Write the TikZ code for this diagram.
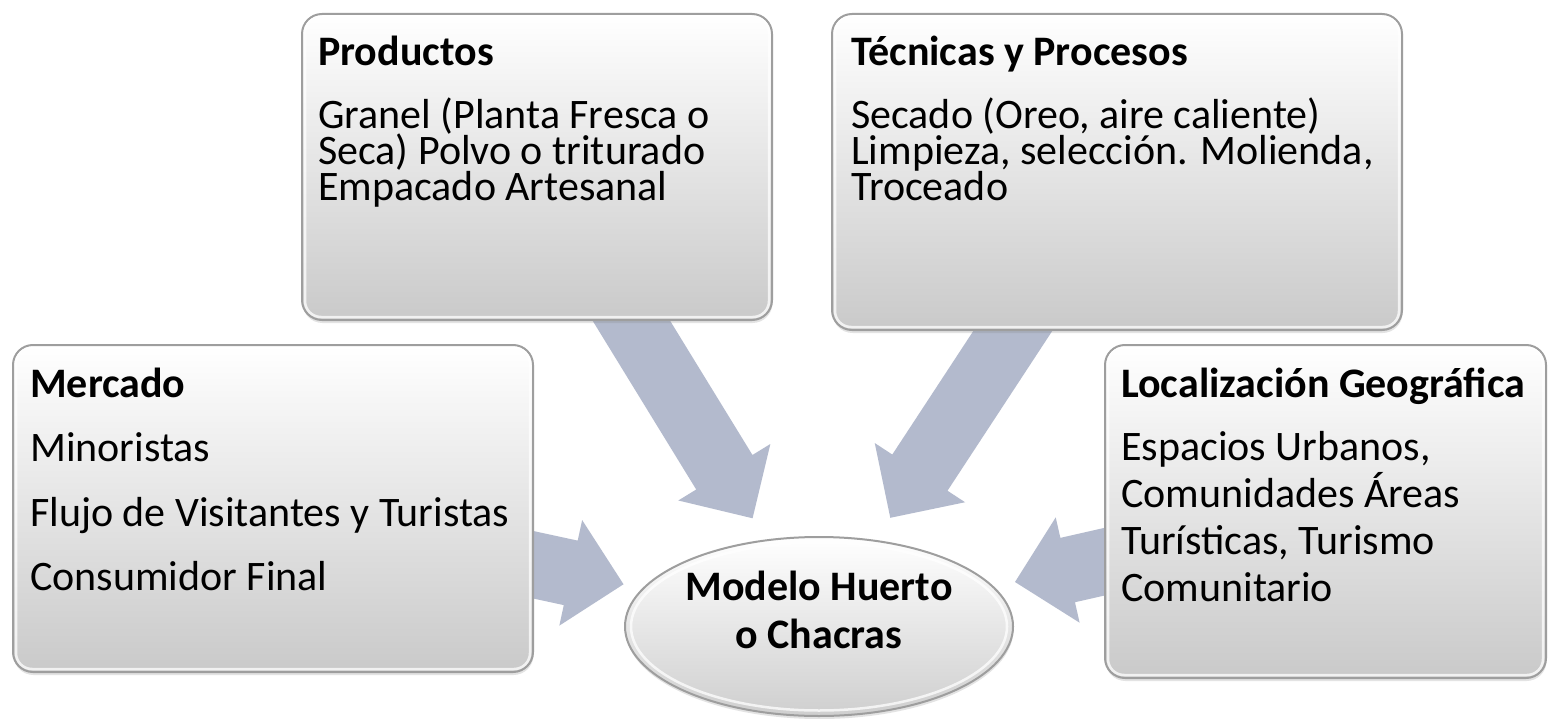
\documentclass[tikz,border=0pt]{standalone}
\usepackage{fontspec}
\setmainfont{Carlito}
\usetikzlibrary{shapes.geometric,calc,shadows}
\definecolor{arrowc}{HTML}{B3BACD}
\definecolor{edgec}{HTML}{9E9E9E}
\pgfdeclarelayer{bg}
\pgfsetlayers{bg,main}
\newcommand\tightls{\lineskiplimit=-100pt\relax}
% block arrow from #1 (start) to #2 (tip)
\newcommand\blockarr[2]{%
  \coordinate (#2-b) at ($(#2)!54pt!(#1)$);
  \fill[arrowc] ($(#1)!33pt!90:(#2)$) -- ($(#2-b)!33pt!90:(#2)$) -- ($(#2-b)!54pt!90:(#2)$)
    -- (#2) -- ($(#2-b)!54pt!-90:(#2)$) -- ($(#2-b)!33pt!-90:(#2)$) -- ($(#1)!33pt!-90:(#2)$) -- cycle;
}
\begin{document}
\begin{tikzpicture}[x=1pt,y=-1pt,
  box/.style={rectangle, rounded corners=20pt, draw=edgec, line width=2pt,
    top color=white, bottom color=black!21, inner sep=0pt,
    drop shadow={shadow xshift=0.5pt, shadow yshift=-3pt, opacity=0.22}},
  oval/.style={ellipse, draw=edgec, line width=2pt, top color=white,
    bottom color=black!19, inner sep=0pt,
    drop shadow={shadow xshift=0.5pt, shadow yshift=-3pt, opacity=0.22}},
  hilite/.style={draw=white, line width=2.5pt, rounded corners=16pt, opacity=0.75},
  txt/.style={inner sep=0pt, align=left, anchor=north west},
]
\useasboundingbox (0,0) rectangle (1549,719);

% boxes
\node[box, minimum width=470pt, minimum height=306pt] (prod) at (537,167) {};
\node[box, minimum width=570pt, minimum height=316pt] (tec) at (1117,172) {};
\node[box, minimum width=520pt, minimum height=327pt] (merc) at (273,508.5) {};
\node[box, minimum width=441pt, minimum height=333pt] (loc) at (1325.5,511.5) {};
\node[oval, minimum width=388pt, minimum height=179pt] (model) at (819,626.5) {};

\foreach \b in {prod,tec,merc,loc}{
  \draw[hilite] ([xshift=4pt,yshift=-4pt]\b.north west) rectangle ([xshift=-4pt,yshift=4pt]\b.south east);
}
\draw[draw=white, line width=2.5pt, opacity=0.75] (model.center) ellipse [x radius=188, y radius=84];

% texts
\node[txt, font=\fontsize{42}{36}\selectfont\tightls] (prodtxt) at (318,31)
  {\rule{0pt}{34pt}\textbf{Productos}\\[27pt]Granel (Planta Fresca o\\Seca) Polvo o triturado\\Empacado Artesanal};
\node[txt, font=\fontsize{42}{36}\selectfont\tightls] (tectxt) at (851,31)
  {\rule{0pt}{34pt}\textbf{Técnicas y Procesos}\\[27pt]Secado (Oreo, aire caliente)\\Limpieza, selección. Molienda,\\Troceado};
\node[txt, font=\fontsize{42}{64.5}\selectfont\tightls] (merctxt) at (30,363)
  {\rule{0pt}{34pt}\textbf{Mercado}\\Minoristas\\Flujo de Visitantes y Turistas\\Consumidor Final};
\node[txt, font=\fontsize{42}{47}\selectfont\tightls] (loctxt) at (1121,363)
  {\rule{0pt}{34pt}\textbf{Localización Geográfica}\\[16pt]Espacios Urbanos,\\Comunidades Áreas\\Turísticas, Turismo\\Comunitario};
\node[inner sep=0pt, align=center, anchor=north, font=\fontsize{42}{48}\selectfont\bfseries\tightls] (modeltxt) at (819,566)
  {\rule{0pt}{34pt}Modelo Huerto\\o Chacras};

% arrows (behind the boxes)
\coordinate (tipP) at ($(model.center)!127pt!(prod.center)$);
\coordinate (tipT) at ($(model.center)!130pt!(tec.center)$);
\coordinate (tipM) at ($(model.center)!200pt!(merc.center)$);
\coordinate (tipL) at ($(model.center)!201pt!(loc.center)$);
\begin{pgfonlayer}{bg}
  \fill[white] (0,0) rectangle (1549,719);
  \blockarr{prod.center}{tipP}
  \blockarr{tec.center}{tipT}
  \blockarr{merc.center}{tipM}
  \blockarr{loc.center}{tipL}
\end{pgfonlayer}
\end{tikzpicture}
\end{document}
